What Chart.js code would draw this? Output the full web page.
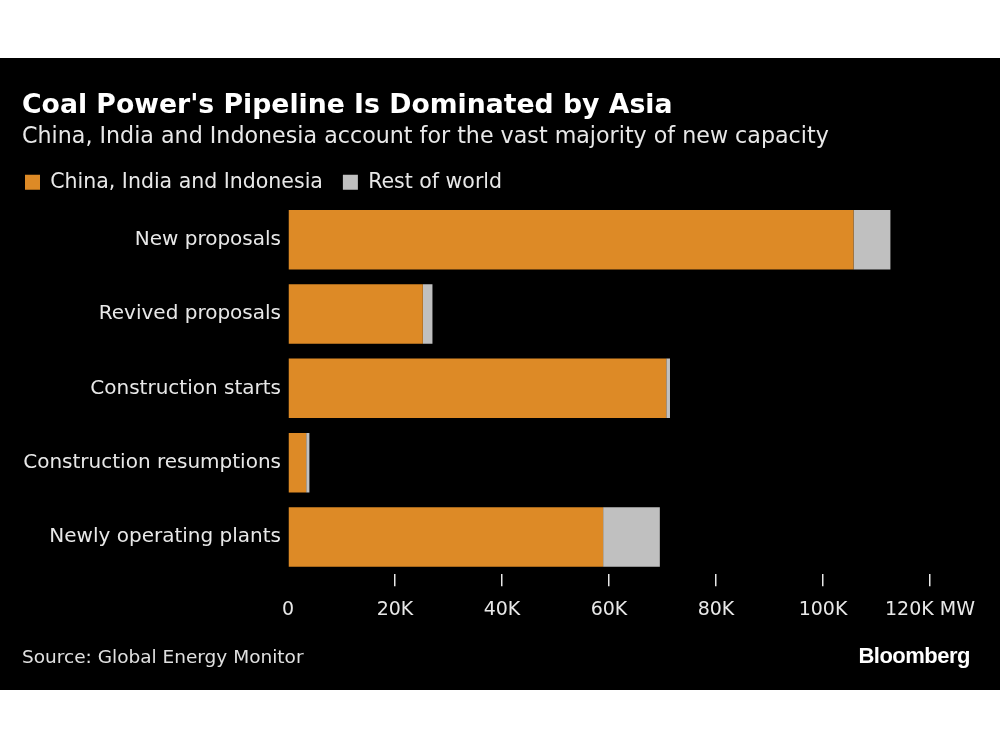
<!DOCTYPE html>
<html>
<head>
<meta charset="utf-8">
<script src="https://cdn.jsdelivr.net/npm/chart.js@4"></script>
<style>
  html, body { margin: 0; padding: 0; background: #fff; width: 1000px; height: 750px; overflow: hidden; }
  #panel { position: absolute; left: 0; top: 58px; width: 1000px; height: 632px; background: #000; }
  #chartWrap { position: absolute; left: 0; top: 0; width: 1000px; height: 632px; }
  .txt { position: absolute; white-space: nowrap; font-family: "DejaVu Sans", sans-serif; }
  #title { left: 22px; top: 30px; font-size: 26.7px; font-weight: bold; color: #fff; }
  #subtitle { left: 22px; top: 64px; font-size: 22.2px; color: #e8e8e8; }
  #source { left: 22px; top: 588px; font-size: 18.5px; color: #e0e0e0; }
  #brand { right: 30px; top: 585px; font-size: 22px; font-weight: bold; color: #fff; font-family: "Liberation Sans", "DejaVu Sans", sans-serif; letter-spacing: -0.5px; }
</style>
</head>
<body>
<div id="panel">
  <div id="chartWrap"><canvas id="c" width="1000" height="632"></canvas></div>
  <div class="txt" id="title">Coal Power's Pipeline Is Dominated by Asia</div>
  <div class="txt" id="subtitle">China, India and Indonesia account for the vast majority of new capacity</div>
  <div class="txt" id="source">Source: Global Energy Monitor</div>
  <div class="txt" id="brand">Bloomberg</div>
</div>
<script>
const categories = ["New proposals", "Revived proposals", "Construction starts", "Construction resumptions", "Newly operating plants"];
const seriesNames = ["China, India and Indonesia", "Rest of world"];
const asiaValues = [105700, 25200, 70700, 3400, 58900];
const restValues = [6900, 1800, 700, 600, 10600];
const tickValues = [0, 20000, 40000, 60000, 80000, 100000, 120000];
const tickLabels = ["0", "20K", "40K", "60K", "80K", "100K", "120K MW"];

const ORANGE = "#dd8a26";
const GRAY = "#c0c0c0";
const TEXT = "#e8e8e8";

Chart.defaults.font.family = '"DejaVu Sans", sans-serif';
Chart.defaults.color = TEXT;

new Chart(document.getElementById("c"), {
  type: "bar",
  data: {
    labels: categories,
    datasets: [
      { label: seriesNames[0], data: asiaValues, backgroundColor: ORANGE, borderWidth: 0, categoryPercentage: 0.8, barPercentage: 1.0 },
      { label: seriesNames[1], data: restValues, backgroundColor: GRAY, borderWidth: 0, categoryPercentage: 0.8, barPercentage: 1.0 }
    ]
  },
  options: {
    indexAxis: "y",
    responsive: false,
    animation: false,
    maintainAspectRatio: false,
    layout: { padding: { left: 5, right: 70, top: 94, bottom: 57 } },
    plugins: {
      legend: {
        display: true,
        position: "top",
        align: "start",
        labels: {
          boxWidth: 15,
          boxHeight: 15,
          padding: 20,
          color: TEXT,
          font: { size: 20.5 }
        }
      },
      tooltip: { enabled: false },
      title: { display: false }
    },
    scales: {
      x: {
        stacked: true,
        min: 0,
        max: 120000,
        afterBuildTicks: (axis) => { axis.ticks = tickValues.map(v => ({ value: v })); },
        ticks: {
          color: TEXT,
          font: { size: 19 },
          padding: 12,
          maxRotation: 0,
          autoSkip: false,
          callback: (value) => tickLabels[tickValues.indexOf(value)]
        },
        grid: {
          drawOnChartArea: false,
          drawTicks: true,
          tickLength: 12,
          lineWidth: 1.5,
          color: (ctx) => (ctx.index === 0 ? "rgba(0,0,0,0)" : "#e8e8e8")
        },
        border: { display: false }
      },
      y: {
        stacked: true,
        afterFit: (axis) => { axis.width = 283; },
        ticks: { color: TEXT, font: { size: 20 }, padding: 7 },
        grid: { display: false, drawTicks: false },
        border: { display: false }
      }
    }
  }
});
</script>
</body>
</html>
